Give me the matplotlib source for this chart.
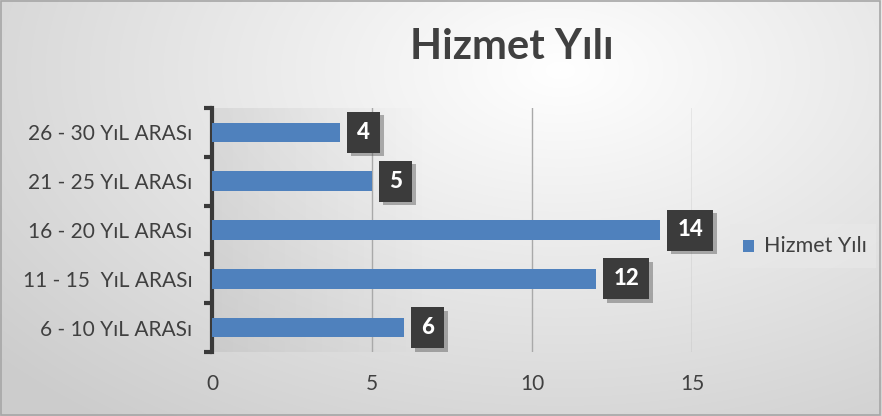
import numpy as np
import matplotlib
matplotlib.use("Agg")
import matplotlib.pyplot as plt
import matplotlib.patheffects as pe
from matplotlib.patches import Rectangle

plt.rcParams['font.family'] = ['Lato', 'DejaVu Sans']

categories = ["6 - 10 YıL ARASı", "11 - 15  YıL ARASı", "16 - 20 YıL ARASı",
              "21 - 25 YıL ARASı", "26 - 30 YıL ARASı"]
values = [6, 12, 14, 5, 4]
series_name = "Hizmet Yılı"
title = "Hizmet Yılı"
xticks = [0, 5, 10, 15]

W, H = 882, 416
fig = plt.figure(figsize=(W / 100, H / 100), dpi=100)

# background gradient
bg = fig.add_axes([0, 0, 1, 1], zorder=-10)
yy, xx = np.mgrid[0:H, 0:W]
d = np.sqrt(((xx - 560) / 750.0) ** 2 + ((yy - 70) / 450.0) ** 2)
d = np.clip(d, 0, 1)
c0 = np.array([1.0, 1.0, 1.0])
c1 = np.array([0.80, 0.80, 0.80])
img = c0[None, None, :] * (1 - d[..., None]) + c1[None, None, :] * d[..., None]
bg.imshow(img, aspect='auto', extent=[0, 1, 0, 1], origin='upper')
bg.set_xlim(0, 1); bg.set_ylim(0, 1)
bg.axis('off')
bg.add_patch(Rectangle((0.001, 0.002), 0.997, 0.995, fill=False, ec='#a6a6a6', lw=1.2,
                       transform=bg.transAxes))

left, right = 212 / W, 692 / W
top, bottom = 1 - 108 / H, 1 - 352 / H
ax = fig.add_axes([left, bottom, right - left, top - bottom])
ax.set_facecolor('none')

y = np.arange(len(categories))
ax.barh(y, values, height=0.4, color='#4f81bd', zorder=3)

# plot-area subtle gray shading fading to the right
shade = np.zeros((1, 200, 4))
shade[..., :3] = 0.55
shade[0, :, 3] = np.linspace(0.16, 0.0, 200)
ax.imshow(shade, extent=[0, 0.45, 0, 1], transform=ax.transAxes,
          aspect='auto', zorder=0, interpolation='bilinear')
ax.set_xlim(0, 15)
ax.set_ylim(-0.5, len(categories) - 0.5)

ax.set_xticks(xticks)
ax.set_xticklabels([str(t) for t in xticks])
ax.tick_params(axis='x', length=0, pad=16, labelsize=15, labelcolor='#404040')
ax.grid(axis='x', color='#a9a9a9', lw=1, zorder=1)

ax.set_yticks(np.arange(-0.5, len(categories), 1.0))
ax.set_yticklabels([])
ax.set_yticks(y, minor=True)
ax.set_yticklabels(categories, minor=True)
ax.tick_params(axis='y', which='major', length=6, width=3, color='#3a3a3a', direction='out')
ax.tick_params(axis='y', which='minor', length=0, pad=14, labelsize=15, labelcolor='#404040')

for s in ['top', 'right', 'bottom']:
    ax.spines[s].set_visible(False)
ax.spines['left'].set_color('#3a3a3a')
ax.spines['left'].set_linewidth(3)

for yi, v in zip(y, values):
    t = ax.annotate(str(v), (v, yi), xytext=(12.5, 0), textcoords='offset points',
                    ha='left', va='center', fontsize=16, fontweight='black', color='white',
                    bbox=dict(boxstyle='square,pad=0.45', fc='#3b3b3b', ec='none'), zorder=5)
    t.get_bbox_patch().set_path_effects([
        pe.SimplePatchShadow(offset=(2.5, -2.5), shadow_rgbFace='#555555', alpha=0.45),
        pe.Normal()])

fig.text(512 / W, 1 - 47 / H, title, ha='center', va='center', fontsize=30,
         fontweight='bold', color='#404040')

# legend
leg_ax = fig.add_axes([730 / W, 1 - 268 / H, 146 / W, 44 / H])
leg_ax.set_xlim(0, 1); leg_ax.set_ylim(0, 1)
leg_ax.axis('off')
leg_ax.add_patch(Rectangle((0, 0), 1, 1, transform=leg_ax.transAxes, fc='#e8e8e8',
                           ec='none', alpha=0.7))
leg_ax.add_patch(Rectangle((0.089, 0.36), 0.078, 0.27, fc='#4f81bd', ec='none'))
leg_ax.text(0.23, 0.5, series_name, va='center', ha='left', fontsize=15.5, color='#404040')

fig.savefig('out.png', dpi=100)
